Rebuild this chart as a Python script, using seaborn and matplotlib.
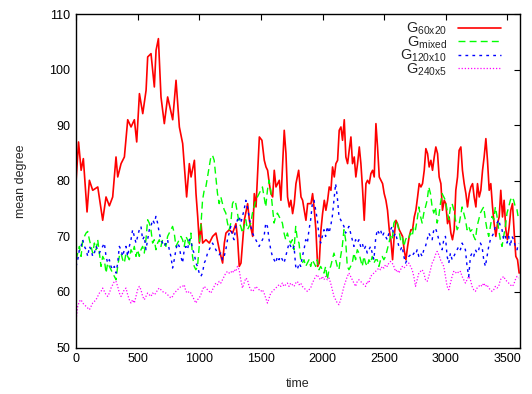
import numpy as np
import pandas as pd
import matplotlib
matplotlib.use("Agg")
import matplotlib.pyplot as plt
import seaborn as sns

# ---------------- data ----------------
red_time = [0, 20, 41, 59, 89, 108, 135, 176, 216, 243, 270, 297, 324, 338, 365, 392, 419, 446,
            473, 492, 514, 541, 568, 581, 608, 635, 649, 668, 689, 716, 743, 784, 811, 838, 865,
            897, 919, 933, 960, 973, 987, 1000, 1014, 1027, 1054, 1081, 1108, 1135, 1162, 1189,
            1203, 1216, 1243, 1270, 1297, 1311, 1324, 1338, 1365, 1392, 1406, 1433, 1446, 1460,
            1487, 1508, 1527, 1541, 1554, 1568, 1581, 1595, 1608, 1622, 1649, 1662, 1689, 1703,
            1716, 1730, 1743, 1757, 1770, 1784, 1806, 1825, 1838, 1865, 1879, 1906, 1919, 1933,
            1946, 1960, 1973, 1987, 2000, 2014, 2027, 2041, 2054, 2068, 2081, 2095, 2108, 2122,
            2135, 2149, 2162, 2176, 2189, 2203, 2216, 2230, 2243, 2257, 2270, 2284, 2298, 2311,
            2325, 2338, 2352, 2365, 2379, 2392, 2406, 2419, 2433, 2446, 2460, 2473, 2487, 2500,
            2514, 2527, 2541, 2554, 2568, 2581, 2595, 2608, 2622, 2649, 2662, 2676, 2690, 2703,
            2717, 2730, 2744, 2757, 2771, 2784, 2798, 2811, 2825, 2838, 2852, 2865, 2879, 2892,
            2906, 2919, 2933, 2946, 2960, 2973, 2987, 3000, 3014, 3027, 3041, 3054, 3068, 3081,
            3095, 3108, 3122, 3135, 3149, 3163, 3176, 3190, 3203, 3217, 3230, 3244, 3257, 3271,
            3284, 3298, 3311, 3325, 3338, 3352, 3365, 3379, 3392, 3406, 3419, 3433, 3446, 3460,
            3473, 3487, 3500, 3514, 3527, 3541, 3555, 3568, 3582, 3595]
g60x20 = [80.0, 87.0, 81.9, 84.0, 74.4, 80.1, 78.3, 78.9, 72.9, 77.1, 75.5, 77.1, 84.3, 80.7, 83.1,
          84.3, 91.0, 89.7, 91.0, 87.0, 95.7, 92.1, 96.3, 102.3, 102.9, 96.9, 103.5, 105.6, 95.1,
          90.3, 95.1, 91.0, 98.1, 89.7, 86.7, 77.1, 83.1, 80.7, 83.7, 77.7, 73.5, 68.8, 72.3, 68.8,
          69.4, 68.8, 70.0, 70.6, 67.6, 65.2, 68.8, 70.6, 71.2, 70.6, 72.3, 69.4, 64.6, 65.2, 72.9,
          75.9, 72.9, 70.0, 77.7, 75.3, 87.9, 87.3, 83.7, 82.5, 81.9, 79.5, 77.7, 77.1, 81.9, 78.9,
          80.1, 76.5, 89.1, 84.9, 77.1, 75.3, 76.5, 74.1, 75.9, 79.5, 81.9, 77.1, 76.5, 72.9, 75.9,
          75.9, 77.7, 74.7, 71.2, 64.6, 65.2, 71.2, 74.1, 76.5, 74.7, 76.5, 78.9, 78.3, 82.5, 80.7,
          83.1, 83.7, 89.1, 89.7, 87.3, 91.0, 84.3, 83.1, 85.5, 87.9, 83.1, 84.3, 80.7, 83.1, 86.1,
          83.1, 78.3, 72.9, 79.5, 80.1, 79.5, 81.3, 81.9, 80.7, 90.3, 86.1, 80.7, 80.1, 79.5, 77.7,
          76.5, 74.7, 71.2, 69.4, 65.8, 70.0, 72.9, 72.3, 71.2, 70.0, 67.6, 65.8, 68.2, 70.0, 71.2,
          71.2, 73.5, 74.7, 77.1, 79.5, 78.9, 79.5, 81.9, 85.8, 84.9, 82.5, 83.7, 81.9, 84.3, 86.1,
          84.9, 80.7, 79.5, 74.7, 76.5, 75.9, 72.3, 73.5, 70.6, 69.4, 71.2, 78.3, 80.7, 85.5, 86.1,
          81.9, 79.5, 77.7, 75.3, 77.7, 78.9, 79.5, 77.1, 75.3, 79.5, 77.1, 78.3, 81.9, 84.3, 87.6,
          83.7, 78.3, 79.5, 75.3, 72.3, 70.0, 72.3, 73.5, 78.3, 73.5, 76.5, 71.2, 69.4, 71.7, 74.7,
          75.9, 70.6, 66.4, 65.8, 63.4]

g_mixed = [65.8, 67.0, 68.2, 66.4, 69.4, 70.0, 70.6, 70.9, 69.4, 68.2, 67.0, 68.8, 67.6, 69.4, 67.0,
           64.6, 66.4, 65.8, 63.4, 65.2, 64.6, 64.0, 63.4, 62.8, 62.2, 64.6, 66.4, 67.0, 65.8, 65.2,
           67.0, 66.4, 65.8, 67.6, 67.0, 68.2, 66.4, 67.6, 66.4, 67.6, 68.2, 67.0, 69.4, 73.0, 72.4,
           71.2, 68.8, 69.4, 67.6, 68.8, 69.4, 68.2, 69.4, 68.8, 68.2, 70.0, 70.6, 71.2, 71.8, 70.6,
           68.2, 68.8, 69.4, 70.0, 69.4, 68.2,
           70.0, 69.4, 68.2, 70.6, 66.4, 64.6, 64.0, 64.6, 68.2, 71.8, 76.5, 78.3, 78.9, 80.7, 82.5,
           84.3, 84.6, 83.7, 80.7, 77.7, 75.9, 77.1, 75.9, 74.8, 74.2, 72.4, 71.2, 72.4, 75.9, 76.5,
           75.9, 74.2, 72.4, 71.8, 70.6, 71.8, 73.0, 71.2, 71.8, 72.4, 74.2, 75.3, 76.5, 77.1, 77.7,
           78.3, 78.9, 77.1, 75.3, 78.3, 80.1, 78.3, 75.3, 72.4, 73.6, 74.2, 73.6, 73.0, 72.4, 70.6,
           69.4, 70.6, 69.4, 68.8, 69.4, 67.6,
           71.8, 69.4, 68.8, 65.8, 65.2, 65.8, 64.6, 65.2, 65.8, 64.6, 65.8, 65.2, 64.6, 65.8, 64.0,
           64.6, 64.0, 63.4, 64.6, 62.2, 64.0, 64.6, 65.8, 67.0, 65.8, 64.6, 64.0, 66.4, 68.2, 71.2,
           69.4, 64.6, 64.0, 64.6, 65.2, 67.0, 65.8, 67.6, 67.0, 65.8, 64.6, 66.4, 65.2, 64.6, 65.8,
           65.2, 66.4, 65.2, 65.8, 65.8, 64.6, 65.8, 66.4, 65.8, 66.4, 67.6, 68.8, 70.0, 69.4, 72.4,
           73.0, 72.4, 71.2, 69.4, 70.0, 68.2,
           69.4, 70.0, 69.7, 70.6, 70.0, 71.8, 71.2, 73.0, 75.3, 73.6, 72.4, 74.2, 75.3, 76.5, 78.9,
           77.7, 75.3, 74.2, 75.3, 72.4, 73.6, 75.9, 77.7, 77.1, 76.5, 74.8, 73.0, 75.3, 75.9, 74.8,
           73.0, 71.2, 71.8, 73.6, 75.3, 74.2, 73.0, 71.2, 71.8, 70.9, 71.2, 70.0, 69.4, 71.8, 73.0,
           74.2, 74.8, 75.3, 73.0, 71.2, 70.0, 71.8, 73.6, 73.0, 75.3, 73.6, 71.2, 69.4, 68.2, 70.0,
           71.8, 74.2, 75.3, 76.5, 77.1, 76.5, 75.3, 74.8, 73.0]

g120x10 = [64.6, 65.8, 67.6, 68.2, 69.4, 68.2, 67.6, 66.4, 68.2, 67.6, 66.4, 67.0, 68.2, 67.6, 67.0,
           67.6, 68.2, 68.8, 66.4, 65.2, 65.8, 64.6, 64.0, 64.6, 63.4, 65.2, 68.2, 67.6, 66.4, 67.6,
           68.2, 66.4, 68.2, 69.4, 71.2, 70.0, 68.8, 70.0, 71.2, 71.8, 69.4, 70.0, 67.6, 69.4, 71.2,
           71.8, 73.0, 72.4, 73.6, 72.4, 70.6, 69.4, 68.8, 68.2, 68.8, 69.4, 67.6, 66.4, 64.3, 65.8,
           67.6, 68.8, 68.2, 66.4, 65.2, 67.6,
           68.2, 67.6, 69.4, 69.4, 67.6, 67.0, 65.2, 64.6, 63.4, 62.8, 63.4, 65.2, 65.8, 67.0, 67.6,
           68.2, 68.8, 68.2, 67.6, 67.0, 66.7, 67.0, 65.8, 66.4, 67.6, 69.4, 70.6, 71.8, 70.0, 69.4,
           71.8, 73.0, 73.6, 72.4, 73.6, 74.8, 76.5, 75.3, 73.6, 71.8, 70.6, 70.0, 69.4, 68.8, 68.2,
           68.8, 69.4, 70.0, 72.4, 71.8, 69.4, 67.6, 66.4, 65.8, 65.2, 66.4, 65.8, 66.4, 65.8, 65.2,
           66.4, 67.6, 68.8, 68.2, 67.6, 68.2,
           64.6, 64.0, 65.2, 64.6, 66.4, 67.6, 69.4, 68.8, 71.2, 73.0, 75.9, 76.5, 74.8, 73.0, 70.0,
           68.8, 70.0, 71.2, 70.0, 71.8, 70.6, 71.8, 73.6, 76.5, 79.5, 77.1, 73.6, 73.0, 72.4, 71.8,
           70.6, 71.2, 71.8, 70.6, 69.4, 68.2, 69.4, 68.8, 69.4, 68.2, 68.8, 67.6, 68.2, 67.0, 67.6,
           68.2, 67.0, 65.8, 69.4, 71.2, 70.6, 71.2, 70.0, 70.6, 70.0, 69.4, 70.6, 71.2, 71.8, 70.0,
           70.6, 69.4, 68.2, 67.6, 68.2, 66.4,
           65.2, 65.8, 66.4, 66.7, 66.4, 67.0, 66.7, 67.6, 66.4, 67.0, 66.4, 67.6, 68.2, 69.4, 70.6,
           70.0, 69.4, 71.2, 71.5, 70.6, 69.4, 68.2, 67.6, 69.4, 70.0, 66.4, 65.2, 67.0, 65.8, 66.4,
           67.0, 67.6, 68.2, 67.6, 68.8, 68.2, 67.6, 64.6, 62.8, 66.4, 67.0, 66.4, 67.6, 67.0, 67.6,
           68.8, 68.2, 65.8, 64.6, 66.4, 68.2, 69.4, 70.0, 70.6, 71.8, 72.4, 73.0, 71.8, 71.2, 69.4,
           70.0, 68.8, 70.0, 68.2, 70.0, 69.4, 68.2, 67.6, 68.8]

g240x5 = [55.0, 57.4, 58.3, 58.6, 58.0, 57.7, 57.4, 57.1, 56.8, 57.4, 58.0, 58.3, 58.6, 59.2, 59.8,
          60.1, 60.7, 60.1, 59.5, 59.2, 59.8, 60.7, 61.3, 61.9, 61.9, 61.0, 59.8, 59.2, 59.8, 60.4,
          60.7, 59.5, 58.6, 58.0, 58.6, 58.0, 59.2, 60.4, 61.0, 60.4, 59.2, 58.6, 59.2, 59.8, 59.5,
          59.2, 59.8, 59.5, 59.8, 60.4, 60.7, 60.4, 60.1, 59.8, 59.8, 59.5, 59.2, 58.9, 59.2, 59.8,
          60.1, 60.4, 60.7, 61.0, 61.0, 61.3,
          60.1, 59.8, 60.1, 59.8, 59.2, 58.6, 58.0, 58.6, 58.9, 59.5, 60.4, 61.0, 60.7, 60.4, 60.1,
          59.8, 60.4, 61.0, 61.6, 61.3, 61.9, 61.6, 62.2, 62.8, 63.4, 63.7, 63.4, 63.7, 63.4, 64.0,
          63.7, 64.6, 64.0, 62.2, 60.7, 61.6, 62.5, 62.2, 61.0, 60.4, 60.1, 60.4, 61.0, 60.7, 60.4,
          60.1, 60.4, 59.8, 58.9, 58.0, 58.9, 59.8, 60.1, 60.4, 60.7, 61.0, 61.3, 61.0, 61.6, 61.0,
          61.3, 61.6, 61.0, 61.6, 61.3, 61.0,
          61.6, 61.9, 61.3, 61.6, 61.0, 60.7, 60.4, 60.1, 60.4, 60.7, 61.6, 62.2, 62.8, 63.1, 62.5,
          62.2, 62.8, 62.2, 62.8, 62.2, 62.5, 61.6, 60.4, 59.2, 58.6, 58.0, 57.7, 58.6, 59.8, 61.0,
          61.9, 62.8, 63.4, 62.8, 62.2, 61.6, 61.0, 61.9, 62.2, 61.9, 61.6, 61.3, 61.0, 61.9, 61.6,
          62.8, 63.1, 63.4, 63.7, 64.0, 64.3, 64.0, 64.6, 64.3, 64.9, 64.6, 65.2, 65.5, 65.2, 64.6,
          63.7, 64.0, 63.4, 64.0, 64.6, 64.3,
          64.6, 64.9, 65.2, 64.6, 64.0, 62.8, 61.0, 62.2, 63.4, 63.7, 64.0, 63.4, 62.2, 61.9, 62.8,
          64.0, 65.2, 65.8, 66.7, 67.3, 66.7, 65.8, 65.2, 64.6, 62.8, 61.0, 60.4, 61.6, 62.8, 63.7,
          63.4, 63.7, 63.4, 63.7, 62.8, 62.2, 61.6, 62.2, 62.8, 62.2, 61.0, 60.4, 60.1, 60.7, 61.0,
          61.3, 61.0, 61.6, 61.0, 61.3, 60.7, 60.4, 60.1, 60.4, 61.0, 60.7, 61.0, 62.2, 62.5, 62.8,
          62.2, 61.9, 61.6, 61.3, 61.0, 61.3, 62.2, 62.8, 62.5]

grid_time = np.linspace(0, 3591, len(g_mixed))

labels = ["G$_{60x20}$", "G$_{mixed}$", "G$_{120x10}$", "G$_{240x5}$"]
colors = ["#ff0000", "#00ff00", "#0000ff", "#ff00ff"]
dash_styles = [(None), (5, 3), (2, 3), (1, 1.5)]
widths = [1.2, 1.0, 1.0, 0.9]

x_ticks = [0, 500, 1000, 1500, 2000, 2500, 3000, 3500]
y_ticks = [50, 60, 70, 80, 90, 100, 110]

# ---------------- plotting ----------------
sns.set_style("white")
plt.rcParams["font.family"] = ["Liberation Sans", "DejaVu Sans"]
plt.rcParams["mathtext.fontset"] = "custom"
plt.rcParams["mathtext.rm"] = "Liberation Sans"
plt.rcParams["mathtext.it"] = "Liberation Sans"
plt.rcParams["mathtext.default"] = "regular"

fig = plt.figure(figsize=(5.32, 3.94), dpi=100)
ax = fig.add_axes([0.143, 0.118, 0.834, 0.846])

series = [
    (red_time, g60x20),
    (grid_time, g_mixed),
    (grid_time, g120x10),
    (grid_time, g240x5),
]
handles = []
for (tt, vv), lab, col, ds, lw in zip(series, labels, colors, dash_styles, widths):
    df = pd.DataFrame({"time": tt, "mean degree": vv})
    sns.lineplot(data=df, x="time", y="mean degree", ax=ax, color=col,
                 linewidth=lw, estimator=None, sort=True, label=lab)
    line = ax.lines[-1]
    if ds is not None:
        line.set_dashes(ds)
    handles.append(line)

ax.set_xlim(0, 3600)
ax.set_ylim(50, 110)
ax.set_xticks(x_ticks)
ax.set_yticks(y_ticks)
ax.tick_params(direction="in", length=4, width=0.8, top=True, right=True,
               labelsize=9, colors="black", pad=4)
for sp in ax.spines.values():
    sp.set_visible(True)
    sp.set_color("black")
    sp.set_linewidth(1.0)

ax.set_xlabel("time", fontsize=9, labelpad=9)
ax.set_ylabel("mean degree", fontsize=9, labelpad=16)

leg = ax.legend(handles=handles, labels=labels, loc="upper right",
                bbox_to_anchor=(0.98, 1.01), frameon=False, markerfirst=False,
                fontsize=10.5, handlelength=2.9, handletextpad=0.8,
                labelspacing=-0.2, borderaxespad=0.3)

fig.savefig("out.png", dpi=100)
